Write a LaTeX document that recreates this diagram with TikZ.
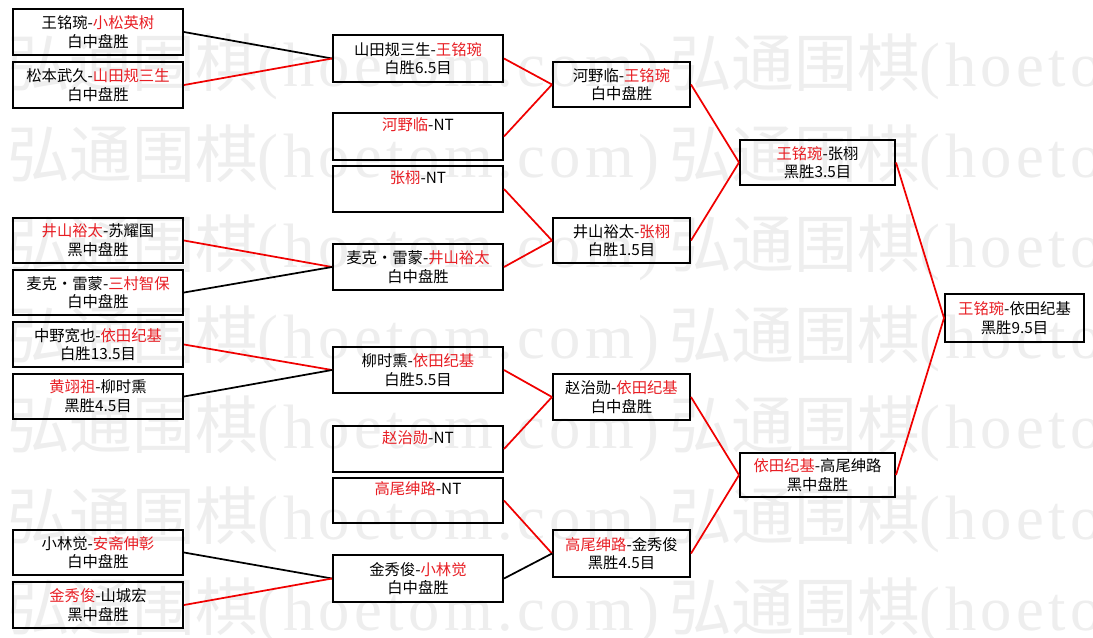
\documentclass[tikz,border=0pt]{standalone}
\usepackage{fontspec}
\setmainfont{Noto Sans CJK SC}
\newfontfamily\wmlat[LetterSpace=7]{Liberation Serif}
\definecolor{hred}{RGB}{232,30,36}
\definecolor{lred}{RGB}{240,0,0}
\definecolor{wmc}{RGB}{238,238,238}
\newcommand\rd[1]{\textcolor{hred}{#1}}
\newcommand\wmtext{弘通围棋{\wmlat(hoetom.com)}}
\begin{document}
\begin{tikzpicture}[x=0.75pt,y=-0.75pt,
  box/.style={draw=black,line width=1.5pt,inner sep=0pt,align=center,
    font=\fontsize{11.5}{14}\selectfont},
  ca/.style={box,minimum width=127.5pt},
  cc/.style={box,minimum width=102.75pt},
  cd/.style={box,minimum width=116.25pt},
  ce/.style={box,minimum width=104.25pt},
  hh/.style={minimum height=#1},
  lk/.style={line width=1.3pt,black},
  lr/.style={line width=1.3pt,lred},
  wmrow/.style={anchor=west,inner sep=0pt,text=wmc,font=\fontsize{47}{47}\selectfont}]
\useasboundingbox (0,0) rectangle (1093,637);
\fill[white] (0,0) rectangle (1093,637);
% watermark
\begin{scope}
\clip (0,0) rectangle (1093,637);
\foreach \yy [count=\i] in {67,158,248,339,429,520,611}{
  \node[wmrow] (wa\i) at (7,\yy) {\wmtext};
  \node[wmrow] (wb\i) at (669,\yy) {\wmtext};
}
\end{scope}
% round 1
\node[ca,hh=34.5pt] (b1) at (98,32) {王铭琬-\rd{小松英树}\\白中盘胜};
\node[ca,hh=34.5pt] (b2) at (98,85) {松本武久-\rd{山田规三生}\\白中盘胜};
\node[ca,hh=33.75pt] (b3) at (98,240.5) {\rd{井山裕太}-苏耀国\\黑中盘胜};
\node[ca,hh=33.75pt] (b4) at (98,292.5) {麦克・雷蒙-\rd{三村智保}\\白中盘胜};
\node[ca,hh=33.75pt] (b5) at (98,344.5) {中野宽也-\rd{依田纪基}\\白胜13.5目};
\node[ca,hh=33.75pt] (b6) at (98,396.5) {\rd{黄翊祖}-柳时熏\\黑胜4.5目};
\node[ca,hh=33.75pt] (b7) at (98,552.5) {小林觉-\rd{安斋伸彰}\\白中盘胜};
\node[ca,hh=34.5pt] (b8) at (98,605) {\rd{金秀俊}-山城宏\\黑中盘胜};
% round 2
\node[ca,hh=35.25pt] (c1) at (418,58.5) {山田规三生-\rd{王铭琬}\\白胜6.5目};
\node[ca,hh=35.25pt] (c2) at (418,136.5) {\rd{河野临}-NT\\\strut};
\node[ca,hh=34.5pt] (c3) at (418,189) {\rd{张栩}-NT\\\strut};
\node[ca,hh=34.5pt] (c4) at (418,267) {麦克・雷蒙-\rd{井山裕太}\\白中盘胜};
\node[ca,hh=34.5pt] (c5) at (418,370) {柳时熏-\rd{依田纪基}\\白胜5.5目};
\node[ca,hh=34.5pt] (c6) at (418,449) {\rd{赵治勋}-NT\\\strut};
\node[ca,hh=33.75pt] (c7) at (418,500.5) {\rd{高尾绅路}-NT\\\strut};
\node[ca,hh=35.25pt] (c8) at (418,578.5) {金秀俊-\rd{小林觉}\\白中盘胜};
% round 3
\node[cc,hh=33.75pt] (d1) at (621.5,84.5) {河野临-\rd{王铭琬}\\白中盘胜};
\node[cc,hh=33.75pt] (d2) at (621.5,240.5) {井山裕太-\rd{张栩}\\白胜1.5目};
\node[cc,hh=34.5pt] (d3) at (621.5,397) {赵治勋-\rd{依田纪基}\\白中盘胜};
\node[cc,hh=35.25pt] (d4) at (621.5,553.5) {\rd{高尾绅路}-金秀俊\\黑胜4.5目};
% round 4
\node[cd,hh=33.75pt] (e1) at (817.5,162.5) {\rd{王铭琬}-张栩\\黑胜3.5目};
\node[cd,hh=33pt] (e2) at (817.5,475) {\rd{依田纪基}-高尾绅路\\黑中盘胜};
% final
\node[ce,hh=36pt] (f1) at (1014.5,318) {\rd{王铭琬}-依田纪基\\黑胜9.5目};
% connectors round 1 -> 2
\draw[lk] (b1.east) -- (c1.west);
\draw[lr] (b2.east) -- (c1.west);
\draw[lr] (b3.east) -- (c4.west);
\draw[lk] (b4.east) -- (c4.west);
\draw[lr] (b5.east) -- (c5.west);
\draw[lk] (b6.east) -- (c5.west);
\draw[lk] (b7.east) -- (c8.west);
\draw[lr] (b8.east) -- (c8.west);
% round 2 -> 3
\draw[lr] (c1.east) -- (d1.west);
\draw[lr] (c2.east) -- (d1.west);
\draw[lr] (c3.east) -- (d2.west);
\draw[lr] (c4.east) -- (d2.west);
\draw[lr] (c5.east) -- (d3.west);
\draw[lr] (c6.east) -- (d3.west);
\draw[lr] (c7.east) -- (d4.west);
\draw[lk] (c8.east) -- (d4.west);
% round 3 -> 4
\draw[lr] (d1.east) -- (e1.west);
\draw[lr] (d2.east) -- (e1.west);
\draw[lr] (d3.east) -- (e2.west);
\draw[lr] (d4.east) -- (e2.west);
% round 4 -> final
\draw[lr] (e1.east) -- (f1.west);
\draw[lr] (e2.east) -- (f1.west);
\end{tikzpicture}
\end{document}
